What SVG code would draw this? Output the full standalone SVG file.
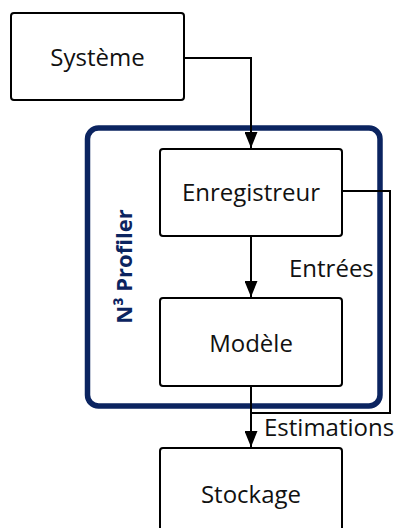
<svg xmlns="http://www.w3.org/2000/svg" width="396" height="528" viewBox="0 0 396 528">
<defs>
<style>
.box{fill:#fff;stroke:#000;stroke-width:2}
.t{font-family:"Open Sans","Noto Sans",sans-serif;font-size:24px;fill:#111;text-anchor:middle}
.lbl{font-family:"Open Sans","Noto Sans",sans-serif;font-size:24px;fill:#111}
.ln{fill:none;stroke:#000;stroke-width:2}
</style>
<marker id="arr" markerWidth="16" markerHeight="13" refX="16" refY="6.5" orient="auto" markerUnits="userSpaceOnUse" viewBox="0 0 16 13">
<path d="M0,0 L16,6.5 L0,13 Z" fill="#000"/>
</marker>
</defs>
<rect width="396" height="528" fill="#fff"/>
<g id="profiler">
<rect x="87.5" y="128" width="292.5" height="278" rx="11" fill="none" stroke="#0B2460" stroke-width="5.5"/>
<text transform="translate(132,266.5) rotate(-90)" font-family="Open Sans, Noto Sans, sans-serif" font-size="22" font-weight="bold" fill="#0B2460" text-anchor="middle">N³ Profiler</text>
</g>
<g id="systeme">
<rect class="box" x="11" y="13" width="173" height="87" rx="3"/>
<text class="t" x="97.5" y="66">Système</text>
</g>
<g id="enregistreur">
<rect class="box" x="160" y="149" width="182" height="87" rx="3"/>
<text class="t" x="251" y="201">Enregistreur</text>
</g>
<g id="modele">
<rect class="box" x="160" y="298" width="182" height="88" rx="3"/>
<text class="t" x="251" y="352">Modèle</text>
</g>
<g id="stockage">
<rect class="box" x="160" y="448" width="182" height="100" rx="3"/>
<text class="t" x="251" y="503">Stockage</text>
</g>
<g id="connectors">
<path class="ln" d="M184,58 H251 V148" marker-end="url(#arr)"/>
<path class="ln" d="M251,236 V297" marker-end="url(#arr)"/>
<path class="ln" d="M251,386 V447" marker-end="url(#arr)"/>
<path class="ln" d="M342,191 H390 V413 H251"/>
<text class="lbl" x="289" y="277">Entrées</text>
<text class="lbl" x="264" y="436">Estimations</text>
</g>
</svg>
